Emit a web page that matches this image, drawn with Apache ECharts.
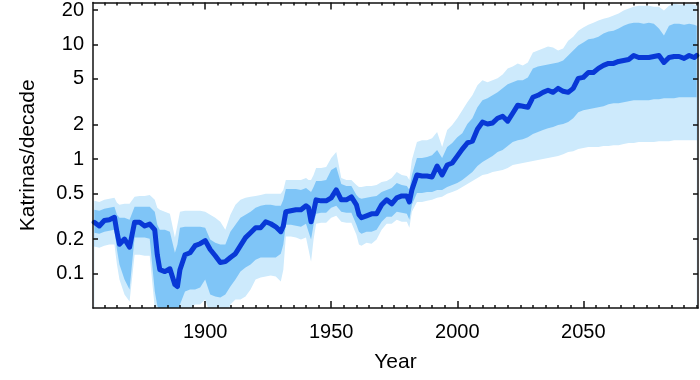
<!DOCTYPE html>
<html><head><meta charset="utf-8">
<script src="https://cdn.jsdelivr.net/npm/echarts@6/dist/echarts.min.js"></script>
<style>html,body{margin:0;padding:0;background:#fff}#c{width:700px;height:380px}</style>
</head><body><div id="c"></div>
<script>
// ---- data ----
const years = [
  1856,1858,1860,1862,1864,1865,1866,1868,1870,1872,
  1874,1876,1878,1880,1881,1882,1884,1886,1888,1889,
  1890,1892,1894,1896,1898,1900,1902,1904,1906,1908,
  1910,1912,1914,1916,1918,1920,1922,1924,1926,1928,
  1930,1931,1932,1934,1936,1938,1940,1941,1942,1943,
  1944,1946,1948,1950,1952,1954,1956,1958,1960,1961,
  1962,1964,1966,1968,1970,1972,1974,1976,1978,1980,
  1981,1982,
  1984,1986,1988,1990,1992,1994,1996,1998,2000,2002,
  2004,2006,2008,2010,2012,2014,2016,2018,2020,2022,
  2024,2026,2028,2030,2032,2034,2036,2038,2040,2042,
  2044,2046,2048,2050,2052,2054,2056,2058,2060,2062,
  2064,2066,2068,2070,2072,2074,2076,2078,2080,2082,
  2084,2086,2088,2090,2092,2094,2095
];
const median = [
  0.28,0.26,0.29,0.295,0.31,0.23,0.18,0.2,0.17,0.28,
  0.28,0.26,0.27,0.24,0.146,0.108,0.104,0.11,0.08,0.077,
  0.108,0.146,0.152,0.175,0.182,0.194,0.162,0.143,0.125,0.127,
  0.138,0.149,0.175,0.206,0.227,0.251,0.251,0.283,0.272,0.256,
  0.232,0.26,0.346,0.353,0.36,0.36,0.39,0.375,0.283,0.346,
  0.44,0.431,0.431,0.458,0.537,0.44,0.44,0.467,0.398,0.326,
  0.307,0.319,0.332,0.332,0.398,0.44,0.406,0.458,0.476,0.476,
  0.422,0.537,
  0.725,0.711,0.711,0.697,0.868,0.725,0.886,0.922,1.06,1.22,
  1.38,1.43,1.82,2.1,2.02,2.06,2.27,2.36,2.14,2.51,
  2.95,2.89,2.83,3.46,3.6,3.82,3.98,3.82,4.14,3.9,
  3.82,4.14,5.06,5.16,5.7,5.7,6.18,6.56,6.83,6.83,
  7.11,7.25,7.4,8.01,7.7,7.7,7.7,7.85,8.01,6.97,
  7.7,7.85,7.85,7.55,8.01,7.7,8.01
];
const innerHigh = [
  0.36,0.353,0.367,0.375,0.382,0.326,0.307,0.307,0.295,0.382,
  0.382,0.382,0.382,0.346,0.267,0.241,0.241,0.232,0.152,0.179,
  0.251,0.256,0.256,0.256,0.256,0.251,0.198,0.186,0.179,0.179,
  0.232,0.267,0.307,0.326,0.346,0.375,0.39,0.398,0.398,0.39,
  0.39,0.44,0.548,0.548,0.548,0.537,0.559,0.537,0.516,0.57,
  0.643,0.643,0.656,0.801,0.851,0.606,0.582,0.582,0.486,0.458,
  0.449,0.458,0.467,0.476,0.516,0.537,0.559,0.618,0.594,0.582,
  0.537,0.725,
  1.02,1.02,1.04,1.08,1.2,1.02,1.27,1.38,1.55,1.68,
  2.02,2.27,2.83,3.26,3.39,3.6,3.82,4.14,4.49,4.67,
  4.86,4.86,5.16,6.18,6.43,6.56,6.69,6.83,6.97,7.25,
  8.01,8.86,9.79,10.4,11.1,11.3,11.7,12.5,13,13.2,
  13.8,14.6,15.2,15.5,15.5,15.2,15.5,15.2,13.8,12,
  14.6,15.2,15.2,14.9,15.2,14.9,14.6
];
const innerLow = [
  0.227,0.223,0.232,0.236,0.241,0.162,0.12,0.0886,0.0725,0.206,
  0.206,0.206,0.2015,0.07,0.0525,0.0467,0.044,0.0467,0.0398,0.0398,
  0.0537,0.0697,0.0725,0.0725,0.0755,0.0886,0.0656,0.063,0.0618,0.0656,
  0.077,0.0886,0.104,0.113,0.12,0.132,0.138,0.138,0.138,0.138,
  0.149,0.179,0.267,0.267,0.261,0.256,0.272,0.232,0.198,0.267,
  0.332,0.339,0.339,0.375,0.39,0.346,0.339,0.339,0.267,0.232,
  0.223,0.232,0.232,0.241,0.283,0.313,0.313,0.346,0.339,0.332,
  0.295,0.398,
  0.506,0.506,0.516,0.516,0.537,0.537,0.57,0.594,0.618,0.656,
  0.711,0.77,0.868,0.94,1.0,1.06,1.15,1.2,1.3,1.41,
  1.46,1.49,1.55,1.65,1.72,1.79,1.86,1.9,1.98,2.02,
  2.1,2.27,2.56,2.67,2.72,2.78,2.83,2.89,3.01,3.07,
  3.07,3.13,3.19,3.26,3.26,3.26,3.26,3.32,3.32,3.39,
  3.39,3.39,3.46,3.46,3.46,3.46,3.46
];
const outerHigh = [
  0.431,0.422,0.44,0.449,0.458,0.414,0.398,0.406,0.406,0.467,
  0.476,0.476,0.486,0.44,0.375,0.36,0.346,0.332,0.206,0.267,
  0.346,0.353,0.353,0.353,0.353,0.346,0.326,0.307,0.283,0.241,
  0.326,0.398,0.44,0.458,0.467,0.476,0.486,0.496,0.496,0.496,
  0.496,0.537,0.656,0.656,0.656,0.656,0.683,0.656,0.656,0.725,
  0.834,0.834,0.851,1.02,1.15,0.683,0.656,0.656,0.594,0.57,
  0.57,0.582,0.582,0.594,0.63,0.643,0.683,0.77,0.725,0.711,
  0.656,0.979,
  1.41,1.46,1.46,1.52,1.72,1.27,1.79,1.98,2.27,2.67,
  3.13,3.6,4.4,4.86,4.67,4.86,5.06,5.48,6.18,6.43,
  6.83,6.56,6.97,8.51,8.86,9.22,9.59,9.4,8.86,9.22,
  10.8,11.7,13.2,14.1,14.9,15.5,16.2,16.8,17.2,17.9,
  18.6,19.8,20.6,21.4,21.8,21.8,21.8,21.4,21.4,19.8,
  21.8,22.7,22.3,22.3,22.7,22.3,21.8
];
const outerLow = [
  0.172,0.168,0.175,0.179,0.179,0.12,0.0886,0.0656,0.057,0.146,
  0.146,0.143,0.143,0.05,0.0398,0.0398,0.0398,0.0398,0.0326,0.0326,
  0.0398,0.044,0.0486,0.0537,0.0537,0.0594,0.044,0.0414,0.0398,0.0398,
  0.0537,0.0594,0.0594,0.063,0.0725,0.0886,0.0922,0.094,0.0959,0.094,
  0.0851,0.108,0.21,0.21,0.206,0.198,0.206,0.162,0.127,0.198,
  0.272,0.278,0.278,0.307,0.319,0.283,0.278,0.278,0.218,0.179,
  0.175,0.186,0.182,0.198,0.241,0.272,0.272,0.295,0.283,0.283,
  0.251,0.346,
  0.422,0.422,0.431,0.44,0.458,0.467,0.496,0.516,0.537,0.57,
  0.606,0.643,0.683,0.725,0.74,0.77,0.785,0.801,0.834,0.886,
  0.903,0.922,0.94,0.959,0.979,1.0,1.02,1.04,1.06,1.1,
  1.15,1.17,1.22,1.25,1.27,1.27,1.27,1.3,1.3,1.32,
  1.32,1.35,1.38,1.38,1.41,1.41,1.41,1.41,1.43,1.43,
  1.43,1.46,1.46,1.46,1.46,1.46,1.46
];
const yTickValues = [0.1, 0.2, 0.5, 1, 2, 5, 10, 20];
const yTickLabels = ['0.1', '0.2', '0.5', '1', '2', '5', '10', '20'];
const xLabelYears = [1900, 1950, 2000, 2050];
const xName = 'Year';
const yName = 'Katrinas/decade';

// ---- chart ----
const X_MIN = 1855.5, X_MAX = 2095.5, Y_MIN = 0.05, Y_MAX = 23.2;
const xMinorTicks = [];
for (let y = 1860; y <= 2095; y += 5) xMinorTicks.push(y);
const yTickLog = yTickValues.map(v => Math.log10(v));
const FONT = "'Liberation Sans', Arial, Helvetica, sans-serif";
const AX = { color: '#111', width: 1.5 };

const pair = arr => years.map((y, i) => [y, arr[i]]);

function xAx(pos, ticks, len, showLine, labels) {
  return {
    type: 'value', position: pos, min: X_MIN, max: X_MAX, z: 10,
    axisLine: { show: showLine, onZero: false, lineStyle: AX },
    axisTick: { show: true, inside: true, length: len, customValues: ticks, lineStyle: AX },
    axisLabel: labels ? { show: true, customValues: labels, fontSize: 20, color: '#000', fontFamily: FONT, margin: 14,
      formatter: v => String(Math.round(v)) } : { show: false },
    splitLine: { show: false }
  };
}
function yAx(pos, labels) {
  return {
    type: 'value', position: pos, min: Math.log10(Y_MIN), max: Math.log10(Y_MAX), z: 10,
    axisLine: { show: true, onZero: false, lineStyle: AX },
    axisTick: { show: true, inside: true, length: 5, customValues: yTickLog, lineStyle: AX },
    axisLabel: labels ? {
      show: true, customValues: yTickLog, fontSize: 20, color: '#000', fontFamily: FONT, margin: 9,
      formatter: v => {
        const i = yTickLog.findIndex(t => Math.abs(t - v) < 1e-6);
        return i >= 0 ? yTickLabels[i] : '';
      }
    } : { show: false },
    splitLine: { show: false }
  };
}

const xMain = xAx('bottom', xMinorTicks, 3, true, xLabelYears);
xMain.name = xName; xMain.nameLocation = 'middle'; xMain.nameGap = 44;
xMain.nameTextStyle = { fontSize: 21, color: '#000', fontFamily: FONT };
const yMain = yAx('left', true);
yMain.name = yName; yMain.nameLocation = 'middle'; yMain.nameGap = 54; yMain.nameRotate = 90;
yMain.nameTextStyle = { fontSize: 21, color: '#000', fontFamily: FONT };

// bands drawn as layered areas filled down to the axis start
function layer(name, arr, color) {
  return { type: 'line', name, xAxisIndex: 0, yAxisIndex: 0, symbol: 'none', silent: true,
    data: pair(arr), lineStyle: { width: 0, opacity: 0 },
    areaStyle: { color, opacity: 1, origin: 'start' } };
}

const option = {
  animation: false,
  backgroundColor: '#fff',
  grid: { left: 93, right: 2, top: 2, bottom: 72, containLabel: false },
  xAxis: [
    xMain,
    xAx('bottom', xLabelYears, 7, false, null),
    xAx('top', xMinorTicks, 3, true, null),
    xAx('top', xLabelYears, 7, false, null)
  ],
  yAxis: [
    { type: 'log', logBase: 10, min: Y_MIN, max: Y_MAX, show: false,
      axisLine: { onZero: false }, splitLine: { show: false } },
    yMain,
    yAx('right', false)
  ],
  series: [
    layer('outer-high', outerHigh, '#cdeafc'),
    layer('inner-high', innerHigh, '#7fc5f7'),
    layer('inner-low', innerLow, '#cdeafc'),
    layer('outer-low', outerLow, '#ffffff'),
    { type: 'line', name: 'median', xAxisIndex: 0, yAxisIndex: 0, symbol: 'none', silent: true,
      data: pair(median), lineStyle: { color: '#0838d6', width: 5, join: 'round', cap: 'round' } }
  ]
};
const chart = echarts.init(document.getElementById('c'), null, { renderer: 'canvas' });
chart.setOption(option);
</script>
</body></html>
